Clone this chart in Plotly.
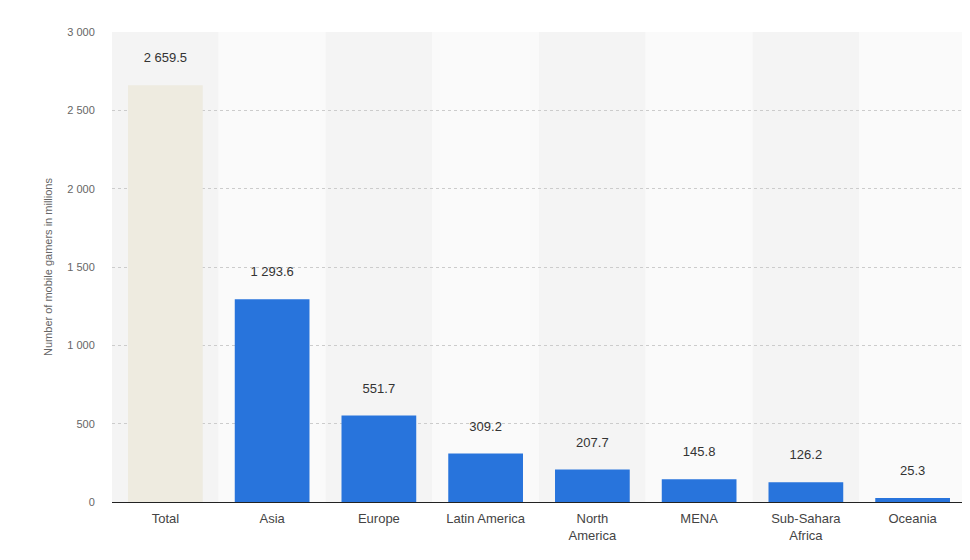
import plotly.graph_objects as go

categories = ["Total", "Asia", "Europe", "Latin America", "North<br>America", "MENA", "Sub-Sahara<br>Africa", "Oceania"]
values = [2659.5, 1293.6, 551.7, 309.2, 207.7, 145.8, 126.2, 25.3]
labels = ["2 659.5", "1 293.6", "551.7", "309.2", "207.7", "145.8", "126.2", "25.3"]
tick_vals = [0, 500, 1000, 1500, 2000, 2500, 3000]
tick_text = ["0", "500", "1 000", "1 500", "2 000", "2 500", "3 000"]

colors = ["#eeebe0"] + ["#2874dc"] * (len(values) - 1)

fig = go.Figure(go.Bar(
    x=list(range(len(categories))), y=values, marker_color=colors, width=0.7,
    marker_line_width=0,
    text=[l + "<br> " for l in labels], textposition="outside", textfont=dict(size=13, color="#333333"),
    cliponaxis=False,
))
shapes = []
for i in range(len(categories)):
    shapes.append(dict(type="rect", xref="x", yref="paper", x0=i - 0.5, x1=i + 0.5, y0=0, y1=1,
                       fillcolor="#f4f4f4" if i % 2 == 0 else "#fafafa", line_width=0, layer="below"))
fig.update_layout(
    width=970, height=560, plot_bgcolor="white", paper_bgcolor="white",
    margin=dict(l=104, r=12, t=24, b=66, autoexpand=False), shapes=shapes, showlegend=False,
    font=dict(family="Arial, Liberation Sans, sans-serif"),
    xaxis=dict(tickvals=list(range(len(categories))), ticktext=categories, range=[-0.5, 7.5],
               tickfont=dict(size=13, color="#444444"), showline=True, linecolor="#222222", linewidth=1,
               ticks="outside", ticklen=4, tickcolor="rgba(0,0,0,0)"),
    yaxis=dict(range=[0, 3000], tickvals=tick_vals, ticktext=tick_text, tickfont=dict(size=11, color="#666666"),
               gridcolor="#cccccc", griddash="dot", zeroline=False,
               ticks="outside", ticklen=14, tickcolor="rgba(0,0,0,0)",
               title=dict(text="Number of mobile gamers in millions", font=dict(size=11, color="#666666"), standoff=12)),
)
fig.write_html("out.html")
